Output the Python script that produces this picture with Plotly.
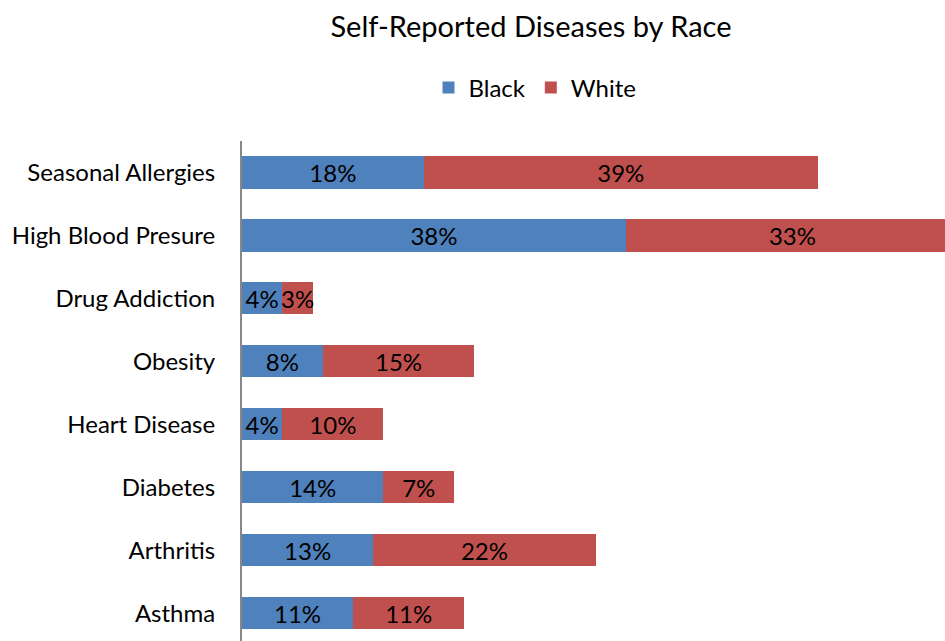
import plotly.graph_objects as go

categories = ["Seasonal Allergies", "High Blood Presure", "Drug Addiction", "Obesity",
              "Heart Disease", "Diabetes", "Arthritis", "Asthma"]
black_vals = [18, 38, 4, 8, 4, 14, 13, 11]
white_vals = [39, 33, 3, 15, 10, 7, 22, 11]

FONT = "Lato"
BLUE = "#4F81BD"
RED = "#C0504D"

W, H = 945, 641

fig = go.Figure()
for name, vals, col in [("Black", black_vals, BLUE), ("White", white_vals, RED)]:
    fig.add_trace(go.Bar(
        y=categories, x=vals, orientation="h", name=name,
        marker=dict(color=col, line=dict(width=0)),
        text=[f"{v}%" for v in vals], textposition="inside",
        insidetextanchor="middle", textangle=0, constraintext="none",
        textfont=dict(family=FONT, size=24, color="black"),
        hoverinfo="skip",
    ))

fig.update_layout(
    width=W, height=H,
    barmode="stack", bargap=0.49,
    paper_bgcolor="white", plot_bgcolor="white",
    margin=dict(l=242, r=0, t=141, b=0),
    font=dict(family=FONT, size=24, color="black"),
    title=dict(text="Self-Reported Diseases by Race", x=531 / W, xanchor="center",
               y=1 - 27 / H, yanchor="middle",
               font=dict(family=FONT, size=29, color="black")),
    legend=dict(orientation="h", x=(535 - 242) / 703, xanchor="center",
                y=1 + (141 - 88) / 500, yanchor="middle",
                font=dict(family=FONT, size=24), traceorder="normal",
                itemwidth=30),
    xaxis=dict(range=[0, 69.6], showticklabels=False, showgrid=False, zeroline=False,
               showline=False, ticks=""),
    yaxis=dict(categoryorder="array", categoryarray=categories,
               range=[7.44, -0.5], showgrid=False, zeroline=False,
               showline=True, linecolor="#888888", linewidth=2,
               ticks="", ticklen=0, ticklabelstandoff=20,
               tickfont=dict(family=FONT, size=24, color="black")),
)

fig.write_html(
    "out.html",
    config={"displayModeBar": False, "staticPlot": True},
    post_script="document.body.style.margin='0';document.body.style.overflow='hidden';",
)
